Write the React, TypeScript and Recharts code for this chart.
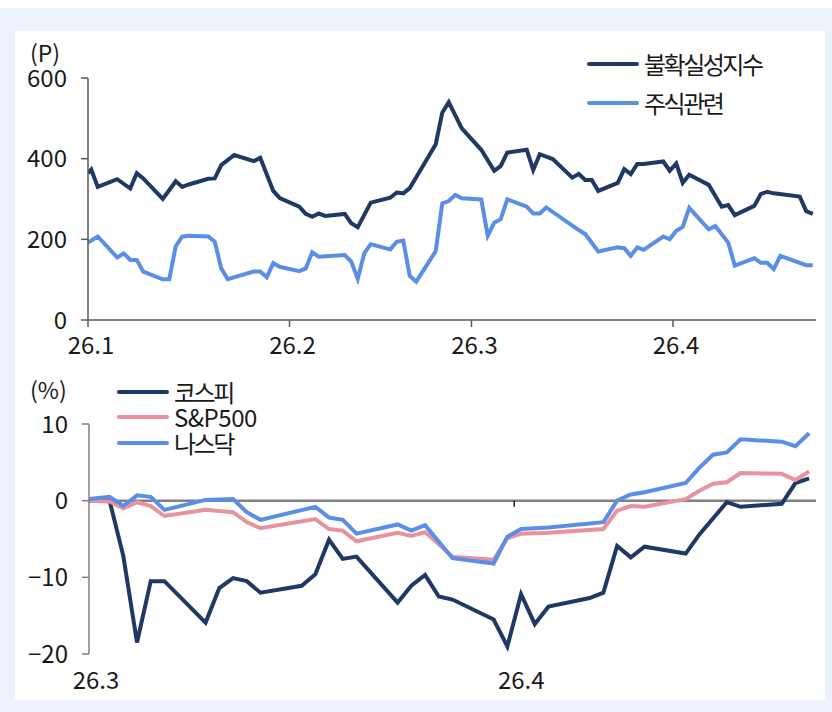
import { LineChart, Line, XAxis, YAxis, ReferenceLine, Legend } from "recharts";

// Upper panel: day of year 2026 (Jan 1 = 1)
const uncertaintyDays = [
  0.5, 1, 2, 5, 7, 8, 9, 12, 14, 15, 16, 19, 20, 21, 23, 26, 27, 29, 30, 33, 34, 35, 36, 37, 40, 41, 42,
  44, 47, 48, 49, 50, 51, 54, 55, 56, 58, 61, 63, 64, 65, 68, 69, 70, 72, 75, 76, 77, 78, 79, 82, 83, 84,
  85, 86, 89, 90, 91, 92, 93, 96, 98, 99, 100, 103, 104, 105, 106, 110, 111, 112,
];
const uncertaintyValues = [
  364, 373, 330, 349, 326, 364, 351, 300, 344, 330, 336, 350, 351, 384, 409, 394, 402, 320, 302, 281,
  263, 256, 264, 258, 263, 240, 230, 291, 303, 316, 314, 327, 354, 436, 514, 540, 475, 422, 370, 382,
  415, 422, 372, 411, 399, 353, 362, 347, 347, 320, 340, 374, 362, 387, 387, 393, 370, 388, 340, 360,
  335, 281, 285, 260, 283, 312, 318, 314, 306, 270, 263,
];

const equityDays = [
  0.5, 2, 5, 6, 7, 8, 9, 12, 13, 14, 15, 16, 19, 20, 21, 22, 26, 27, 28, 29, 30, 33, 34, 35, 36, 40, 41,
  42, 43, 44, 47, 48, 49, 50, 51, 54, 55, 56, 57, 58, 61, 62, 63, 64, 65, 68, 69, 70, 71, 76, 77, 79, 82,
  83, 84, 85, 86, 89, 90, 91, 92, 93, 96, 97, 99, 100, 103, 104, 105, 106, 107, 111, 112,
];
const equityValues = [
  192, 207, 155, 165, 149, 149, 120, 101, 101, 183, 207, 209, 207, 194, 128, 101, 120, 120, 106, 141,
  132, 121, 128, 168, 157, 161, 145, 102, 165, 188, 175, 194, 197, 109, 95, 171, 289, 295, 310, 302,
  299, 209, 241, 250, 299, 281, 264, 264, 279, 223, 213, 170, 180, 178, 159, 180, 174, 207, 200, 221,
  231, 278, 225, 233, 192, 135, 153, 142, 142, 126, 159, 136, 136,
];

const monthTicks = [0.5, 31.5, 59.5, 90.5];
const monthLabels = ["26.1", "26.2", "26.3", "26.4"];
const pointTicks = [0, 200, 400, 600];

// Lower panel: day count from Mar 1 (Mar 1 = 1), % change
const kospiDays = [
  0.5, 2, 3, 4, 5, 6, 9, 10, 11, 12, 13, 16, 17, 18, 19, 20, 23, 24, 25, 26, 27, 30, 31, 32, 33, 34, 37,
  38, 39, 40, 41, 44, 45, 47, 48, 51, 52, 53,
];
const kospiValues = [
  0, 0, -7.2, -18.5, -10.5, -10.5, -15.9, -11.4, -10.1, -10.5, -12.0, -11.1, -9.6, -5.1, -7.6, -7.3,
  -13.3, -11.1, -9.7, -12.5, -12.9, -15.5, -19.0, -12.2, -16.1, -13.8, -12.7, -12.0, -5.9, -7.4, -6.0,
  -6.9, -4.4, -0.2, -0.8, -0.4, 2.3, 2.9,
];

const usDays = [
  0.5, 2, 3, 4, 5, 6, 9, 11, 12, 13, 17, 18, 19, 20, 23, 24, 25, 27, 30, 31, 32, 34, 38, 39, 40, 41, 44,
  45, 46, 47, 48, 51, 52, 53,
];
const spxValues = [
  0, -0.1, -1.0, -0.2, -0.7, -2.0, -1.2, -1.5, -2.8, -3.6, -2.4, -3.7, -3.9, -5.3, -4.2, -4.6, -4.1,
  -7.3, -7.7, -4.9, -4.3, -4.2, -3.7, -1.3, -0.7, -0.8, 0.2, 1.3, 2.2, 2.4, 3.6, 3.5, 2.7, 3.8,
];
const nasdaqValues = [
  0.2, 0.5, -0.7, 0.7, 0.5, -1.2, 0.1, 0.2, -1.5, -2.5, -0.8, -2.2, -2.5, -4.3, -3.1, -3.9, -3.2, -7.5,
  -8.2, -4.7, -3.7, -3.5, -2.8, 0.0, 0.8, 1.1, 2.3, 4.3, 6.0, 6.3, 8.0, 7.7, 7.1, 8.8,
];

const marchTicks = [0.5, 31.5];
const marchLabels = ["26.3", "26.4"];
const pctTicks = [-20, -10, 0, 10];

const topNames = ["불확실성지수", "주식관련"];
const bottomNames = ["코스피", "S&P500", "나스닥"];

const FONT = "'Noto Sans CJK KR', 'Noto Sans', sans-serif";
const NAVY = "#1f3864";
const SKY = "#5b8ee6";
const PINK = "#e8919f";
const AXIS = "#595959";
const ZERO = "#808080";
const INK = "#1a1a1a";

const toRows = (days: number[], values: number[]) => days.map((day, i) => ({ day, value: values[i] }));

const uncertaintyData = toRows(uncertaintyDays, uncertaintyValues);
const equityData = toRows(equityDays, equityValues);
const kospiData = toRows(kospiDays, kospiValues);
const spxData = toRows(usDays, spxValues);
const nasdaqData = toRows(usDays, nasdaqValues);

const minus = (v: number) => (v < 0 ? `\u2212${Math.abs(v)}` : `${v}`);

function SeriesLegend({ payload, order, rowHeight }: any) {
  const items = order
    .map((name: string) => (payload || []).find((p: any) => p.value === name))
    .filter(Boolean);
  return (
    <div>
      {items.map((item: any) => (
        <div key={item.value} style={{ display: "flex", alignItems: "center", height: rowHeight }}>
          <span
            style={{
              display: "inline-block",
              width: 52,
              height: 4,
              borderRadius: 2,
              background: item.color,
              marginRight: 5,
            }}
          />
          <span
            style={{
              fontSize: 24,
              lineHeight: "22px",
              color: INK,
              whiteSpace: "nowrap",
              letterSpacing: /[가-힣]/.test(item.value) ? -2.5 : -0.5,
            }}
          >
            {item.value}
          </span>
        </div>
      ))}
    </div>
  );
}

export default function App() {
  return (
    <div
      style={{
        position: "absolute",
        left: 0,
        top: 0,
        width: 832,
        height: 712,
        background: "#fff",
        fontFamily: FONT,
        overflow: "hidden",
      }}
    >
      <div style={{ position: "absolute", left: 0, top: 8, width: 832, height: 704, background: "#eef2fc" }} />
      <div style={{ position: "absolute", left: 15, top: 31, width: 810, height: 669, background: "#fff" }} />

      {/* uncertainty index vs. equity-related */}
      <div style={{ position: "absolute", left: 30, top: 41, fontSize: 23, lineHeight: "22px", color: INK }}>(P)</div>
      <div style={{ position: "absolute", left: 0, top: 0 }}>
        <LineChart width={832} height={360} margin={{ top: 78, right: 16, bottom: 10, left: 0 }}>
          <XAxis
            type="number"
            dataKey="day"
            domain={[0.5, 112.5]}
            ticks={monthTicks}
            tickFormatter={(v: number) => monthLabels[monthTicks.indexOf(v)]}
            allowDataOverflow
            height={30}
            tickSize={7}
            tickMargin={10}
            stroke={AXIS}
            strokeWidth={1.5}
            tick={{ fill: INK, fontSize: 24, dx: 3 }}
          />
          <YAxis
            type="number"
            domain={[0, 600]}
            ticks={pointTicks}
            width={88}
            tickSize={7}
            tickMargin={14}
            stroke={AXIS}
            strokeWidth={1.5}
            tick={{ fill: INK, fontSize: 24 }}
          />
          <Legend
            layout="vertical"
            align="center"
            verticalAlign="middle"
            wrapperStyle={{ left: 587, top: 44, width: 220 }}
            content={(props: any) => <SeriesLegend {...props} order={topNames} rowHeight={39} />}
          />
          <Line
            data={uncertaintyData}
            dataKey="value"
            name="불확실성지수"
            stroke={NAVY}
            strokeWidth={4}
            dot={false}
            isAnimationActive={false}
          />
          <Line
            data={equityData}
            dataKey="value"
            name="주식관련"
            stroke={SKY}
            strokeWidth={4}
            dot={false}
            isAnimationActive={false}
          />
        </LineChart>
      </div>

      {/* KOSPI vs. US indices, % change */}
      <div style={{ position: "absolute", left: 30, top: 378, fontSize: 23, lineHeight: "22px", color: INK }}>(%)</div>
      <div style={{ position: "absolute", left: 0, top: 360 }}>
        <LineChart width={832} height={340} margin={{ top: 64, right: 16, bottom: 6, left: 0 }}>
          <XAxis
            type="number"
            dataKey="day"
            domain={[0.5, 53.5]}
            ticks={marchTicks}
            tickFormatter={(v: number) => marchLabels[marchTicks.indexOf(v)]}
            allowDataOverflow
            height={40}
            axisLine={false}
            tickLine={false}
            tickSize={0}
            tickMargin={18}
            tick={{ fill: INK, fontSize: 24, dx: 7 }}
          />
          <YAxis
            type="number"
            domain={[-20, 10]}
            ticks={pctTicks}
            tickFormatter={minus}
            width={89}
            tickSize={7}
            tickMargin={14}
            stroke={ZERO}
            strokeWidth={1.5}
            tick={{ fill: INK, fontSize: 24 }}
          />
          <ReferenceLine y={0} stroke={ZERO} strokeWidth={2.5} />
          <ReferenceLine
            segment={[
              { x: 31.5, y: 0 },
              { x: 31.5, y: -0.8 },
            ]}
            stroke={INK}
            strokeWidth={1.5}
          />
          <Legend
            layout="vertical"
            align="center"
            verticalAlign="middle"
            wrapperStyle={{ left: 117, top: 19, width: 200 }}
            content={(props: any) => <SeriesLegend {...props} order={bottomNames} rowHeight={25.5} />}
          />
          <Line
            data={kospiData}
            dataKey="value"
            name="코스피"
            stroke={NAVY}
            strokeWidth={4}
            dot={false}
            isAnimationActive={false}
          />
          <Line
            data={spxData}
            dataKey="value"
            name="S&P500"
            stroke={PINK}
            strokeWidth={4}
            dot={false}
            isAnimationActive={false}
          />
          <Line
            data={nasdaqData}
            dataKey="value"
            name="나스닥"
            stroke={SKY}
            strokeWidth={4}
            dot={false}
            isAnimationActive={false}
          />
        </LineChart>
      </div>
    </div>
  );
}
